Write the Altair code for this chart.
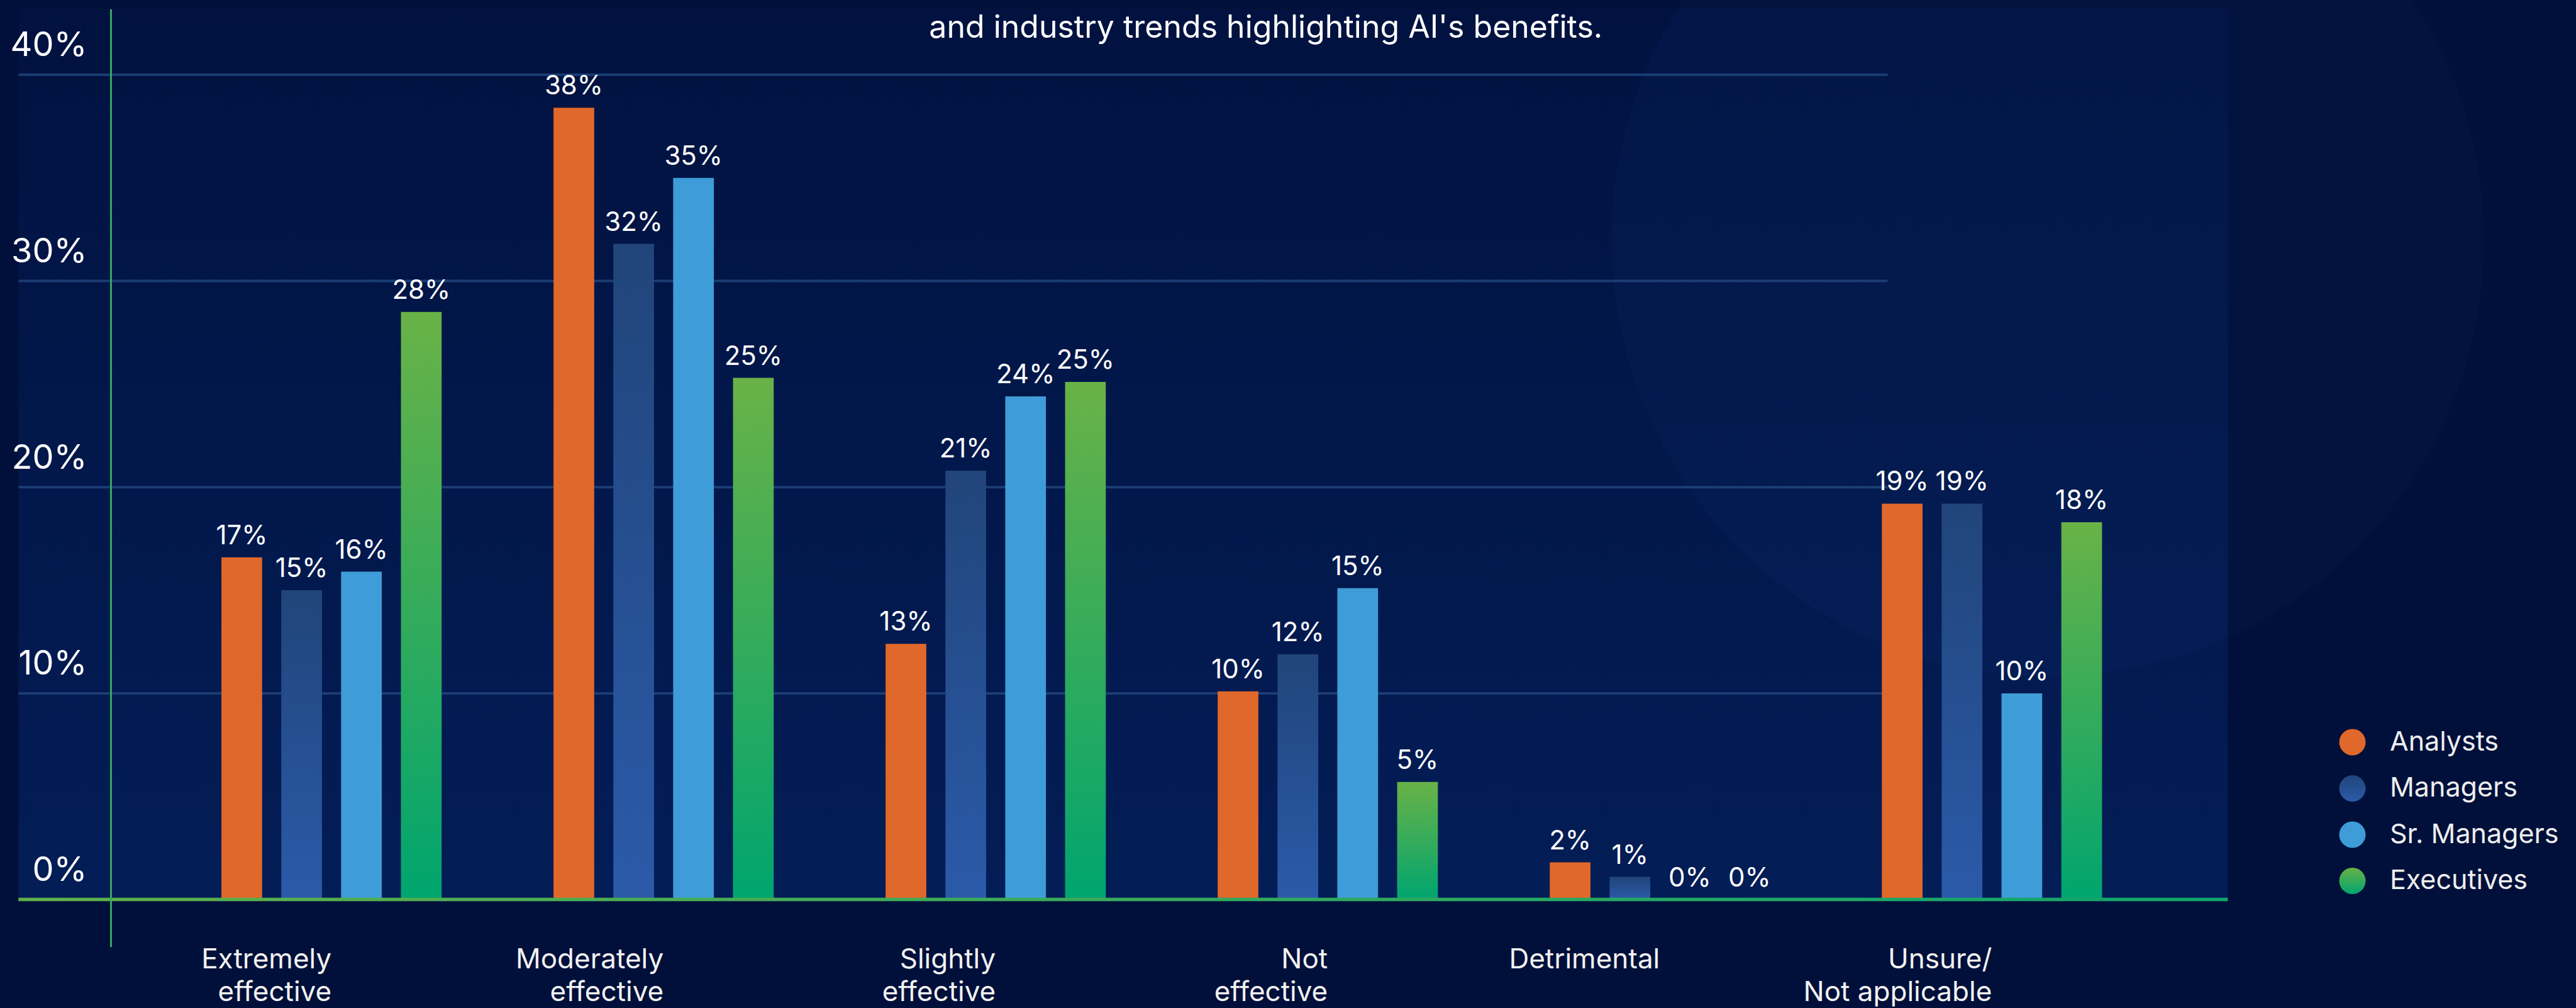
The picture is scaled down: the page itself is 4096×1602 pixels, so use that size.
import altair as alt
import pandas as pd

categories = ["Extremely\neffective", "Moderately\neffective", "Slightly\neffective",
              "Not\neffective", "Detrimental", "Unsure/\nNot applicable"]
series = ["Analysts", "Managers", "Sr. Managers", "Executives"]

analysts = [16.6, 38.4, 12.4, 10.1, 1.8, 19.2]
managers = [15.0, 31.8, 20.8, 11.9, 1.1, 19.2]
sr_managers = [15.9, 35.0, 24.4, 15.1, 0.0, 10.0]
executives = [28.5, 25.3, 25.1, 5.7, 0.0, 18.3]

analysts_labels = ["17%", "38%", "13%", "10%", "2%", "19%"]
managers_labels = ["15%", "32%", "21%", "12%", "1%", "19%"]
sr_managers_labels = ["16%", "35%", "24%", "15%", "0%", "10%"]
executives_labels = ["28%", "25%", "25%", "5%", "0%", "18%"]

y_ticks = [0, 10, 20, 30, 40]
grid_values = [10, 20, 30, 40]
subtitle = "and industry trends highlighting AI's benefits."

rows = []
for s, vals, labs in zip(series,
                         [analysts, managers, sr_managers, executives],
                         [analysts_labels, managers_labels, sr_managers_labels, executives_labels]):
    for c, v, l in zip(categories, vals, labs):
        rows.append({"category": c, "series": s, "value": v, "label": l})
df = pd.DataFrame(rows)
grid_df = pd.DataFrame({"value": grid_values})
one_df = pd.DataFrame({"value": [0]})

FONT = "Inter"

grad_managers = ("{gradient: 'linear', x1: 0, y1: 0, x2: 0, y2: 1, stops: ["
                 "{offset: 0, color: '#21457a'}, {offset: 1, color: '#2b5aa9'}]}")
grad_exec = ("{gradient: 'linear', x1: 0, y1: 0, x2: 0, y2: 1, stops: ["
             "{offset: 0, color: '#69b247'}, {offset: 1, color: '#00a56f'}]}")

color_scale = alt.Scale(domain=series,
                        range=["#e0682a", {"expr": grad_managers}, "#3e9dd8", {"expr": grad_exec}])

x_enc = alt.X("category:N", sort=categories,
              scale=alt.Scale(domain=categories, paddingInner=0.337, paddingOuter=0.495, align=0.6175),
              axis=alt.Axis(title=None, domain=False, ticks=False, labelAngle=0, labelLimit=0,
                            labelExpr="split(datum.label, '\\n')",
                            labelFontSize=44, labelFont=FONT, labelColor="#f2f2f2",
                            labelPadding=34, labelBaseline="alphabetic", labelLineHeight=52))
xoff_enc = alt.XOffset("series:N", sort=series,
                       scale=alt.Scale(domain=series, paddingInner=0.32, paddingOuter=0))
y_enc = alt.Y("value:Q",
              scale=alt.Scale(domain=[-2.295, 43.19], nice=False, zero=False),
              axis=alt.Axis(title=None, values=y_ticks, grid=False, ticks=False, zindex=2,
                            domain=True, domainColor="#33a862", domainWidth=3, offset=-146.7,
                            labelPadding=38, labelOffset=-30, labelBaseline="alphabetic",
                            labelFontSize=54, labelFont=FONT, labelColor="#ffffff",
                            labelExpr="datum.value + '%'"))

plot_grad = {"gradient": "linear", "x1": 0, "y1": 0, "x2": 0, "y2": 1,
             "stops": [{"offset": 0, "color": "#011240"}, {"offset": 1, "color": "#031d56"}]}
panel = alt.Chart(one_df).mark_rect(fill=plot_grad).encode(
    x=alt.value(0),
    x2=alt.value("width"),
    y=alt.datum(0),
    y2=alt.value(0),
)

# faint decorative disc in the upper right of the background
disc = alt.Chart(one_df).mark_circle(fill="#2a4a9a", fillOpacity=0.07, stroke=None).encode(
    x=alt.value(3226.6),
    y=alt.value(366.8),
    size=alt.value(1926544),
)

grid = alt.Chart(grid_df).mark_rule(color="#1b3d73", strokeWidth=4).encode(
    x=alt.X(datum=categories[-1], type="nominal", bandPosition=0.026),
    x2=alt.value(0),
    y=y_enc,
)

bars = alt.Chart(df).mark_bar().encode(
    x=x_enc,
    xOffset=xoff_enc,
    y=y_enc,
    color=alt.Color("series:N", scale=color_scale, sort=series,
                    legend=alt.Legend(orient="none", legendX=3689.7, legendY=1143.7, title=None,
                                      symbolType="circle", symbolSize=1764, symbolStrokeWidth=0,
                                      labelFontSize=43, labelFont=FONT, labelColor="#eeeeee",
                                      labelLimit=0, rowPadding=29.5, labelOffset=38, padding=0)),
)

texts = alt.Chart(df).mark_text(dy=-21, baseline="alphabetic", fontSize=42, font=FONT,
                                color="#ffffff").encode(
    x=x_enc,
    xOffset=xoff_enc,
    y=y_enc,
    text="label:N",
)

baseline_grad = {"gradient": "linear", "x1": 0, "y1": 0, "x2": 1, "y2": 0,
                 "stops": [{"offset": 0, "color": "#5fae4a"}, {"offset": 1, "color": "#10a46c"}]}
baseline = alt.Chart(one_df).mark_rect(fill=baseline_grad).encode(
    x=alt.value(0),
    x2=alt.value("width"),
    y=alt.datum(0.084),
    y2=alt.datum(-0.084),
)

chart = alt.layer(panel, disc, grid, bars, texts, baseline).properties(
    width=3513,
    height=1490.5,
    padding={"left": 29.3, "top": 14.3, "right": 553.7, "bottom": 97.2},
    autosize=alt.AutoSizeParams(type="none"),
    background="#00103a",
    title=alt.TitleParams(text=subtitle, anchor="middle", orient="top", offset=0, frame="group",
                          baseline="alphabetic", dx=227, dy=422.9, fontSize=50, font=FONT,
                          fontWeight="normal", color="#ffffff"),
).configure_view(
    stroke=None
)

chart.save("out.html", embed_options={"renderer": "svg", "actions": False})
